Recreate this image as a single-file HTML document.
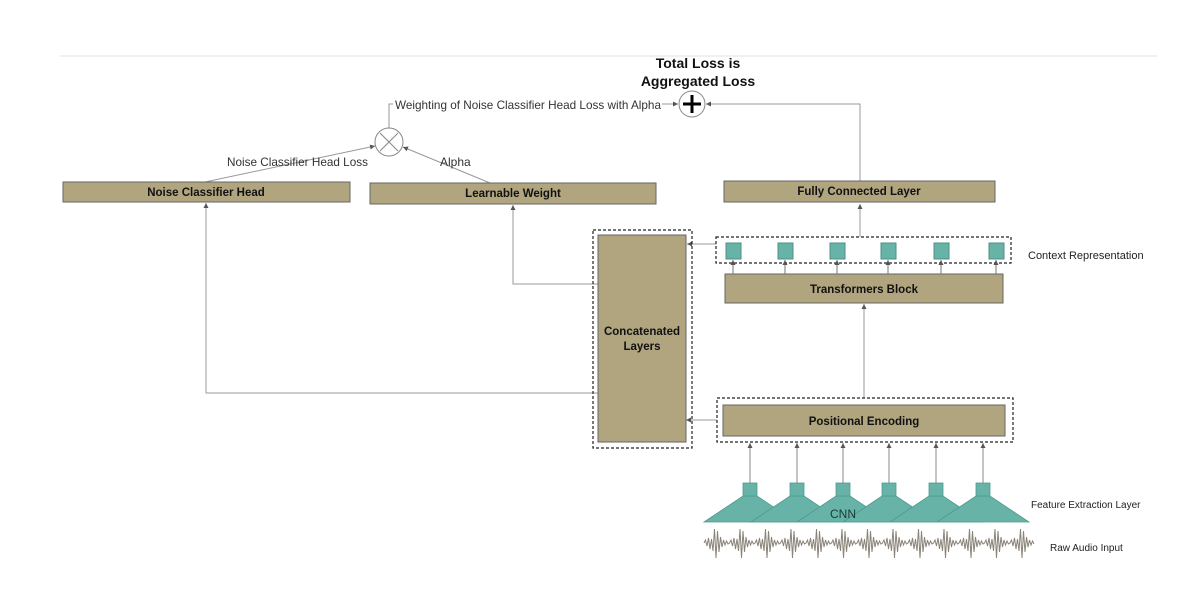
<!DOCTYPE html>
<html><head><meta charset="utf-8"><style>
html,body{margin:0;padding:0;background:#fff;}
svg{display:block;font-family:"Liberation Sans",Arial,sans-serif;}
</style></head><body>
<svg width="1204" height="592" viewBox="0 0 1204 592" xmlns="http://www.w3.org/2000/svg">
<defs>
<marker id="a" markerWidth="6" markerHeight="6" refX="5" refY="3" orient="auto" markerUnits="userSpaceOnUse"><path d="M0,0.5 L5,3 L0,5.5z" fill="#555"/></marker>
</defs>
<line x1="60" y1="56" x2="1157" y2="56" stroke="#e2e2e2"/>
<text x="698" y="68" font-size="14" font-weight="bold" text-anchor="middle" fill="#111">Total Loss is</text>
<text x="698" y="86" font-size="14" font-weight="bold" text-anchor="middle" fill="#111">Aggregated Loss</text>
<g stroke="#999" fill="none" stroke-width="1">
<polyline points="860,181 860,104 706,104" marker-end="url(#a)"/>
<polyline points="389,128 389,104 393,104"/>
<line x1="662" y1="104" x2="678" y2="104" marker-end="url(#a)"/>
<line x1="205" y1="182" x2="375" y2="146" marker-end="url(#a)"/>
<line x1="490" y1="183" x2="403" y2="147" marker-end="url(#a)"/>
<polyline points="598,284 513,284 513,205" marker-end="url(#a)"/>
<polyline points="598,393 206,393 206,203" marker-end="url(#a)"/>
<line x1="716" y1="244" x2="687" y2="244" marker-end="url(#a)"/>
<line x1="717" y1="420" x2="686" y2="420" marker-end="url(#a)"/>
<line x1="860" y1="237" x2="860" y2="204" marker-end="url(#a)"/>
<line x1="864" y1="398" x2="864" y2="304" marker-end="url(#a)"/>
</g>
<circle cx="692" cy="104" r="13" fill="#fff" stroke="#888"/>
<path d="M683,104 H701 M692,95 V113" stroke="#000" stroke-width="3"/>
<circle cx="389" cy="142" r="14" fill="#fff" stroke="#888"/>
<path d="M380,133 L398,151 M398,133 L380,151" stroke="#888"/>
<text x="395" y="109" font-size="12" fill="#333" textLength="266" lengthAdjust="spacingAndGlyphs">Weighting of Noise Classifier Head Loss with Alpha</text>
<text x="227" y="166" font-size="12" fill="#333" textLength="141" lengthAdjust="spacingAndGlyphs">Noise Classifier Head Loss</text>
<text x="440" y="166" font-size="12" fill="#333">Alpha</text>
<g fill="#b0a57f" stroke="#666" stroke-width="1">
<rect x="63" y="182" width="287" height="20"/>
<rect x="370" y="183" width="286" height="21"/>
<rect x="724" y="181" width="271" height="21"/>
<rect x="598" y="235" width="88" height="207"/>
<rect x="725" y="274" width="278" height="29"/>
<rect x="723" y="405" width="282" height="31"/>
</g>
<g font-size="11.5" font-weight="bold" fill="#111" text-anchor="middle">
<text x="206" y="196">Noise Classifier Head</text>
<text x="513" y="197">Learnable Weight</text>
<text x="859" y="195">Fully Connected Layer</text>
<text x="642" y="335">Concatenated</text>
<text x="642" y="350">Layers</text>
<text x="864" y="293">Transformers Block</text>
<text x="864" y="425">Positional Encoding</text>
</g>
<g fill="none" stroke="#222" stroke-dasharray="3,2" stroke-width="1.2">
<rect x="593" y="230" width="99" height="218"/>
<rect x="716" y="237" width="295" height="26"/>
<rect x="717" y="398" width="296" height="44"/>
</g>
<g fill="#67b3a8" stroke="#4d8f86">
<rect x="726" y="243" width="15" height="16"/>
<rect x="778" y="243" width="15" height="16"/>
<rect x="830" y="243" width="15" height="16"/>
<rect x="881" y="243" width="15" height="16"/>
<rect x="934" y="243" width="15" height="16"/>
<rect x="989" y="243" width="15" height="16"/>
</g>
<g stroke="#777" marker-end="url(#a)">
<line x1="733" y1="274" x2="733" y2="260"/>
<line x1="785" y1="274" x2="785" y2="260"/>
<line x1="837" y1="274" x2="837" y2="260"/>
<line x1="888" y1="274" x2="888" y2="260"/>
<line x1="941" y1="274" x2="941" y2="260"/>
<line x1="996" y1="274" x2="996" y2="260"/>
</g>
<g stroke="#888" marker-end="url(#a)">
<line x1="750" y1="483" x2="750" y2="443"/>
<line x1="797" y1="483" x2="797" y2="443"/>
<line x1="843" y1="483" x2="843" y2="443"/>
<line x1="889" y1="483" x2="889" y2="443"/>
<line x1="936" y1="483" x2="936" y2="443"/>
<line x1="983" y1="483" x2="983" y2="443"/>
</g>
<g fill="#67b3a8" stroke="#4f9a8f" stroke-width="0.8">
<path d="M743,496 H757 L796,522 H704 Z"/><rect x="743" y="483" width="14" height="13"/>
<path d="M790,496 H804 L843,522 H751 Z"/><rect x="790" y="483" width="14" height="13"/>
<path d="M836,496 H850 L889,522 H797 Z"/><rect x="836" y="483" width="14" height="13"/>
<path d="M882,496 H896 L935,522 H843 Z"/><rect x="882" y="483" width="14" height="13"/>
<path d="M929,496 H943 L982,522 H890 Z"/><rect x="929" y="483" width="14" height="13"/>
<path d="M976,496 H990 L1029,522 H937 Z"/><rect x="976" y="483" width="14" height="13"/>
</g>
<text x="843" y="518" font-size="12" fill="#1a3a36" text-anchor="middle">CNN</text>
<path id="wave" fill="none" stroke="#8a8378" stroke-width="1" d=""/>
<text x="1028" y="259" font-size="11" fill="#222">Context Representation</text>
<text x="1031" y="508" font-size="10" fill="#222">Feature Extraction Layer</text>
<text x="1050" y="551" font-size="10" fill="#222">Raw Audio Input</text>
<script>
var pat=[0,-3,3,-5,6,-4,8,-14,15,-12,9,-6,4,-3,2,-2,1];
var d="",x=704,k=0;
while(x<=1034){var y=543+pat[k%pat.length];d+=(d?" L":"M")+x.toFixed(1)+","+y;x+=1.5;k++;}
document.getElementById("wave").setAttribute("d",d);
</script>
</svg>
</body></html>
